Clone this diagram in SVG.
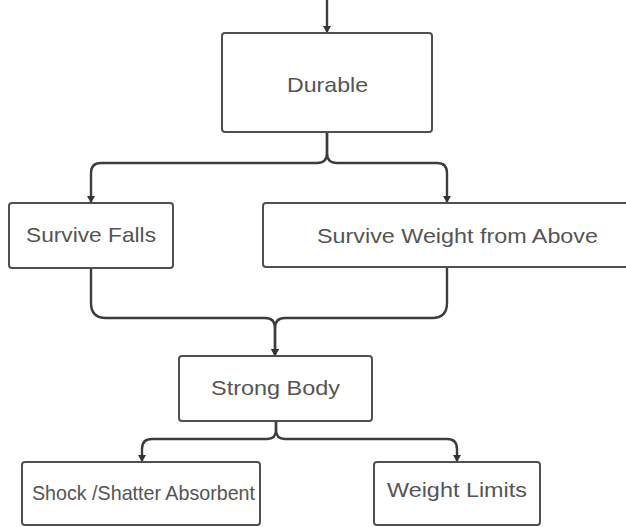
<svg xmlns="http://www.w3.org/2000/svg" width="626" height="527" viewBox="0 0 626 527">
  <defs>
    <!-- arrowhead drawn along +x so orient="auto" follows the path -->
    <marker id="arrow" markerUnits="userSpaceOnUse" markerWidth="10" markerHeight="10" viewBox="0 0 10 10" refX="9" refY="5" orient="auto">
      <path d="M2,1 L9,5 L2,9 Z" fill="#333"/>
    </marker>
    <style>
      .box { fill: #fff; stroke: #505050; stroke-width: 2; }
      .lbl { font-family: "Liberation Sans", Arial, sans-serif; font-size: 21px; fill: #555; text-anchor: middle; }
      .conn { fill: none; stroke: #3c3c3c; stroke-width: 2.4; marker-end: url(#arrow); }
    </style>
  </defs>
  <rect width="626" height="527" fill="#fff"/>

  <g id="connectors">
    <!-- incoming arrow into Durable -->
    <path class="conn" d="M327,0 V33"/>
    <!-- Durable splits -->
    <path class="conn" d="M327,132 V153 Q327,163 317,163 H101 Q91,163 91,173 V203"/>
    <path class="conn" d="M327,132 V153 Q327,163 337,163 H437 Q447,163 447,173 V203"/>
    <!-- merge into Strong Body -->
    <path class="conn" d="M91,268 V303 Q91,318 106,318 H265 Q275,318 275,328 V356"/>
    <path class="conn" d="M447,267 V303 Q447,318 432,318 H285 Q275,318 275,328 V356"/>
    <!-- Strong Body splits -->
    <path class="conn" d="M276,421 V430 Q276,439 267,439 H152 Q142,439 142,449 V462"/>
    <path class="conn" d="M276,421 V430 Q276,439 285,439 H447 Q457,439 457,449 V462"/>
  </g>

  <g id="durable">
    <rect class="box" x="222" y="33" width="210" height="99" rx="3"/>
    <text class="lbl" x="327.5" y="92" textLength="81" lengthAdjust="spacingAndGlyphs">Durable</text>
  </g>

  <g id="survive-falls">
    <rect class="box" x="9" y="203" width="164" height="65" rx="3"/>
    <text class="lbl" x="91" y="242" textLength="130" lengthAdjust="spacingAndGlyphs">Survive Falls</text>
  </g>

  <g id="survive-weight">
    <rect class="box" x="263" y="203" width="380" height="64" rx="3"/>
    <text class="lbl" x="457.5" y="243" textLength="281" lengthAdjust="spacingAndGlyphs">Survive Weight from Above</text>
  </g>

  <g id="strong-body">
    <rect class="box" x="179" y="356" width="193" height="65" rx="3"/>
    <text class="lbl" x="275.5" y="395" textLength="129" lengthAdjust="spacingAndGlyphs">Strong Body</text>
  </g>

  <g id="shock-absorbent">
    <rect class="box" x="22" y="462" width="238" height="63" rx="3"/>
    <text class="lbl" x="143.5" y="500" font-size="19" textLength="223" lengthAdjust="spacingAndGlyphs">Shock /Shatter Absorbent</text>
  </g>

  <g id="weight-limits">
    <rect class="box" x="374" y="462" width="166" height="63" rx="3"/>
    <text class="lbl" x="457" y="497" textLength="140" lengthAdjust="spacingAndGlyphs">Weight Limits</text>
  </g>
</svg>
